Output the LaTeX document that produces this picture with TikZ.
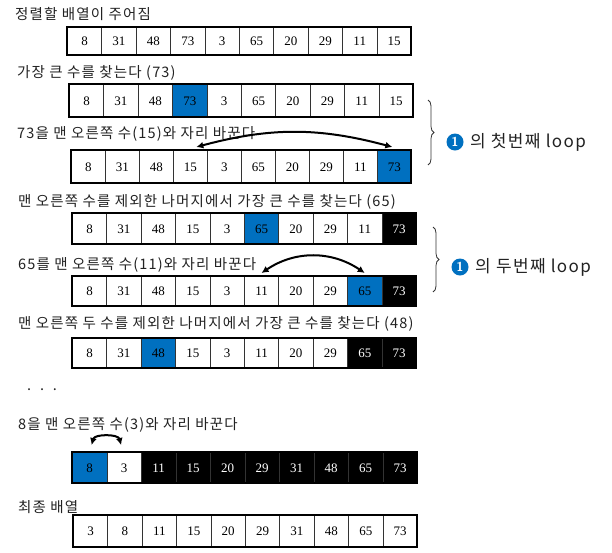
\documentclass[tikz,border=0pt]{standalone}
\usepackage{fontspec}
\setmainfont{Liberation Serif}
\newfontfamily\kr[LetterSpace=8]{Noto Sans CJK KR}
\usetikzlibrary{decorations.pathreplacing,arrows.meta,calc}
\definecolor{cblue}{HTML}{0070C0}
\definecolor{txt}{HTML}{222222}
\newcommand\arrrow[6]{%
  \pgfmathsetmacro\cw{(#3-#2)/10}%
  \pgfmathsetmacro\ch{#5-#4}%
  \foreach [count=\i] \v/\f/\t in {#6} {%
    \pgfmathsetmacro\xa{#2+(\i-1)*\cw}%
    \node[cell, fill=\f, text=\t, minimum width=\cw pt, minimum height=\ch pt] (#1-\i) at (\xa,#4) {\v};
  }%
  \draw[frame] (#2,#4) rectangle (#3,#5);
}
\begin{document}
\begin{tikzpicture}[x=1pt,y=-1pt,
  lbl/.style={anchor=west,font=\kr\fontsize{14.5}{16}\selectfont,inner sep=0pt,text=txt},
  biglbl/.style={anchor=west,font=\kr\fontsize{17}{18}\selectfont,inner sep=0pt,text=txt},
  cell/.style={anchor=north west,draw=black!80,line width=0.7pt,inner sep=0pt,font=\fontsize{13}{15}\selectfont},
  frame/.style={draw=black,line width=2.8pt},
  swaparrow/.style={line width=2pt,{Latex[length=7pt,width=7pt]}-{Latex[length=7pt,width=7pt]}},
  bracestyle/.style={draw=black!80,line width=0.8pt,decorate,decoration={brace,amplitude=6pt}},
  numcirc/.style={circle,fill=cblue,text=white,inner sep=0pt,minimum size=17pt,font=\sffamily\bfseries\fontsize{13}{13}\selectfont}
]
\useasboundingbox (0,0) rectangle (612,552);
\fill[white] (0,0) rectangle (612,552);

\node[lbl] (l1) at (15,14) {정렬할 배열이 주어짐};
\arrrow{r1}{67}{411}{27}{55}{8/white/black,31/white/black,48/white/black,73/white/black,3/white/black,65/white/black,20/white/black,29/white/black,11/white/black,15/white/black}

\node[lbl] (l2) at (17,73) {가장 큰 수를 찾는다 (73)};
\arrrow{r2}{69}{413}{84}{117}{8/white/black,31/white/black,48/white/black,73/cblue/black,3/white/black,65/white/black,20/white/black,29/white/black,11/white/black,15/white/black}

\node[lbl] (l3) at (17,134) {73을 맨 오른쪽 수(15)와 자리 바꾼다};
\arrrow{r3}{71}{411}{150}{183}{8/white/black,31/white/black,48/white/black,15/white/black,3/white/black,65/white/black,20/white/black,29/white/black,11/white/black,73/cblue/black}
\draw[swaparrow] ([xshift=6pt,yshift=3pt]r3-4.north) to[bend left=15] ([xshift=-2pt,yshift=3pt]r3-10.north);

\node[lbl] (l4) at (18,202) {맨 오른쪽 수를 제외한 나머지에서 가장 큰 수를 찾는다 (65)};
\arrrow{r4}{72}{416}{213}{244}{8/white/black,31/white/black,48/white/black,15/white/black,3/white/black,65/cblue/black,20/white/black,29/white/black,11/white/black,73/black/white}

\node[lbl] (l5) at (18,265) {65를 맨 오른쪽 수(11)와 자리 바꾼다};
\arrrow{r5}{72}{416}{276}{306}{8/white/black,31/white/black,48/white/black,15/white/black,3/white/black,11/white/black,20/white/black,29/white/black,65/cblue/black,73/black/white}
\draw[swaparrow] ([yshift=3pt]r5-6.north) to[bend left=34] ([yshift=3pt]r5-9.north);

\node[lbl] (l6) at (18,324) {맨 오른쪽 두 수를 제외한 나머지에서 가장 큰 수를 찾는다 (48)};
\arrrow{r6}{72}{416}{338}{368}{8/white/black,31/white/black,48/cblue/black,15/white/black,3/white/black,11/white/black,20/white/black,29/white/black,65/black/white,73/black/white}

\node[lbl] (dots) at (27,390) {.\ \ .\ \ .};

\node[lbl] (l7) at (18,425) {8을 맨 오른쪽 수(3)와 자리 바꾼다};
\arrrow{r7}{72}{417}{452}{483}{8/cblue/black,3/white/black,11/black/white,15/black/white,20/black/white,29/black/white,31/black/white,48/black/white,65/black/white,73/black/white}
\draw[swaparrow] ([xshift=2pt,yshift=7pt]r7-1.north) to[bend left=75] ([xshift=-3pt,yshift=7pt]r7-2.north);

\node[lbl] (l8) at (18,507) {최종 배열};
\arrrow{r8}{73}{417}{515}{547}{3/white/black,8/white/black,11/white/black,15/white/black,20/white/black,29/white/black,31/white/black,48/white/black,65/white/black,73/white/black}

\coordinate (b1a) at (428,100);
\coordinate (b1b) at (428,165);
\draw[bracestyle] (b1a) -- (b1b);
\node[numcirc] (c1) at (455,142) {1};
\node[biglbl] (t1) at (470,142) {의 첫번째 loop};

\coordinate (b2a) at (433,227);
\coordinate (b2b) at (433,292);
\draw[bracestyle] (b2a) -- (b2b);
\node[numcirc] (c2) at (460,267) {1};
\node[biglbl] (t2) at (475,267) {의 두번째 loop};
\end{tikzpicture}
\end{document}
